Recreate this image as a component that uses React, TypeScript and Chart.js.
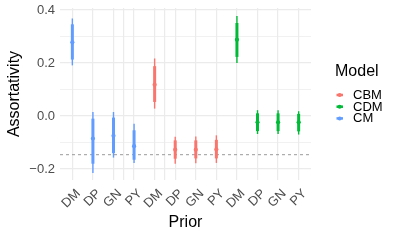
import React, { useEffect, useRef } from "react";
import { Chart, registerables } from "chart.js";

Chart.register(...registerables);

// ---- data ----
const priors = ["DM", "DP", "GN", "PY"];
const xModels = ["CM", "CM", "CM", "CM", "CBM", "CBM", "CBM", "CBM", "CDM", "CDM", "CDM", "CDM"];
const medianValues = [0.278, -0.085, -0.075, -0.114, 0.118, -0.127, -0.127, -0.126, 0.288, -0.024, -0.024, -0.024];
const innerHigh = [0.346, -0.010, -0.006, -0.054, 0.188, -0.092, -0.092, -0.090, 0.351, 0.010, 0.010, 0.008];
const innerLow = [0.213, -0.180, -0.140, -0.165, 0.053, -0.161, -0.160, -0.160, 0.223, -0.057, -0.057, -0.058];
const outerHigh = [0.368, 0.015, 0.015, -0.029, 0.217, -0.078, -0.077, -0.073, 0.377, 0.022, 0.022, 0.018];
const outerLow = [0.191, -0.215, -0.157, -0.177, 0.028, -0.180, -0.178, -0.177, 0.200, -0.068, -0.068, -0.070];
const referenceLine = -0.146;
const yTickValues = [-0.2, -0.1, 0, 0.1, 0.2, 0.3, 0.4];
const yMajorTicks = [-0.2, 0, 0.2, 0.4];
const xExtraGrid = [3.5, 5.5];
const legendModels = ["CBM", "CDM", "CM"];
const modelColors: Record<string, string> = { CBM: "#F8766D", CDM: "#00BA38", CM: "#619CFF" };

const FONT = "'Liberation Sans', Arial, sans-serif";

function fmtY(v: number) {
  const s = Math.abs(v).toFixed(1);
  return v < -1e-9 ? "\u2212" + s : s;
}

export default function App() {
  const ref = useRef<HTMLCanvasElement | null>(null);
  useEffect(() => {
    const canvas = ref.current;
    if (!canvas) return;
    const xs = medianValues.map((_, i) => i + 1);
    const colors = xModels.map((m) => modelColors[m]);
    const xGridValues = [...xs, ...xExtraGrid].sort((a, b) => a - b);

    // one line dataset per interval (vertical segment)
    const intervalSets = (lo: number[], hi: number[], width: number) =>
      xs.map((x, i) => ({
        type: "line",
        data: [
          { x, y: lo[i] },
          { x, y: hi[i] },
        ],
        borderColor: colors[i],
        borderWidth: width,
        borderCapStyle: "butt",
        pointRadius: 0,
        fill: false,
        showLine: true,
      }));

    const legendPlugin = {
      id: "ggLegend",
      afterDraw(chart: any) {
        const ctx = chart.ctx;
        ctx.save();
        ctx.fillStyle = "#000";
        ctx.font = `16px ${FONT}`;
        ctx.textBaseline = "middle";
        ctx.textAlign = "left";
        ctx.fillText("Model", 335, 72);
        ctx.font = `13px ${FONT}`;
        legendModels.forEach((m, i) => {
          const y = 95 + i * 11.7;
          ctx.strokeStyle = modelColors[m];
          ctx.fillStyle = modelColors[m];
          ctx.lineWidth = 2.5;
          ctx.beginPath();
          ctx.moveTo(336.5, y);
          ctx.lineTo(343, y);
          ctx.stroke();
          ctx.beginPath();
          ctx.arc(339.7, y, 2, 0, Math.PI * 2);
          ctx.fill();
          ctx.fillStyle = "#000";
          ctx.fillText(m, 353, y + 0.5);
        });
        ctx.restore();
      },
    };

    const chart = new Chart(canvas, {
      type: "scatter",
      data: {
        datasets: [
          {
            type: "scatter",
            data: xs.map((x, i) => ({ x, y: medianValues[i] })),
            backgroundColor: colors,
            borderColor: colors,
            pointRadius: 2.1,
            pointBorderWidth: 0,
          } as any,
          ...(intervalSets(innerLow, innerHigh, 3) as any[]),
          ...(intervalSets(outerLow, outerHigh, 1.4) as any[]),
          {
            type: "line",
            data: [
              { x: 0.4, y: referenceLine },
              { x: 12.6, y: referenceLine },
            ],
            borderColor: "#9a9a9a",
            borderWidth: 1,
            borderDash: [3, 3],
            pointRadius: 0,
            fill: false,
          } as any,
        ],
      },
      options: {
        animation: false,
        responsive: false,
        layout: { padding: { top: 8, right: 89, left: 0, bottom: 0 } },
        plugins: { legend: { display: false }, tooltip: { enabled: false } },
        scales: {
          x: {
            type: "linear",
            min: 0.4,
            max: 12.6,
            offset: false,
            border: { display: false },
            grid: {
              color: "#EBEBEB",
              lineWidth: 1.2,
              drawTicks: false,
              offset: false,
            },
            afterBuildTicks: (s: any) => {
              s.ticks = xGridValues.map((v) => ({ value: v }));
            },
            afterFit: (s: any) => {
              s.height = 60;
              s.paddingLeft = 0;
              s.paddingRight = 0;
            },
            ticks: {
              autoSkip: false,
              minRotation: 45,
              maxRotation: 45,
              padding: 6,
              labelOffset: 6,
              color: "#4D4D4D",
              font: { family: FONT, size: 13 },
              callback: (v: any) => {
                const n = Number(v);
                return Number.isInteger(n) ? priors[(n - 1) % 4] : "";
              },
            },
            title: {
              display: true,
              text: "Prior",
              color: "#000",
              font: { family: FONT, size: 16 },
              padding: { top: 0, bottom: 8 },
            },
          },
          y: {
            type: "linear",
            min: -0.2415,
            max: 0.4075,
            border: { display: false },
            grid: {
              color: "#EBEBEB",
              lineWidth: (c: any) =>
                yMajorTicks.some((t) => Math.abs(t - c.tick.value) < 1e-6) ? 1.2 : 0.7,
              drawTicks: false,
            },
            afterBuildTicks: (s: any) => {
              s.ticks = yTickValues.map((v) => ({ value: v }));
            },
            afterFit: (s: any) => {
              s.width = 60;
              s.paddingTop = 0;
              s.paddingBottom = 0;
            },
            ticks: {
              autoSkip: false,
              padding: 5,
              color: "#4D4D4D",
              font: { family: FONT, size: 13 },
              callback: (v: any) => {
                const n = Number(v);
                return yMajorTicks.some((t) => Math.abs(t - n) < 1e-6) ? fmtY(n) : "";
              },
            },
            title: {
              display: true,
              text: "Assortativity",
              color: "#000",
              font: { family: FONT, size: 16 },
              padding: { top: 5, bottom: 0 },
            },
          },
        },
      } as any,
      plugins: [legendPlugin],
    });
    return () => chart.destroy();
  }, []);

  return (
    <div style={{ position: "fixed", left: 0, top: 0, width: 400, height: 240, background: "#fff" }}>
      <canvas ref={ref} width={400} height={240} />
    </div>
  );
}
